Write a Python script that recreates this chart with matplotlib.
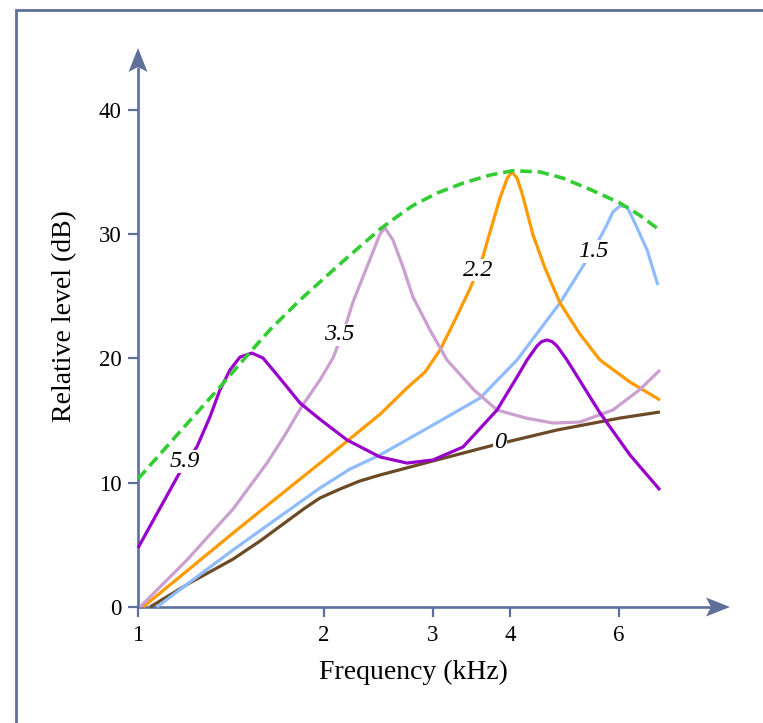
import matplotlib
matplotlib.use("Agg")
import matplotlib.pyplot as plt
from matplotlib.patches import Rectangle, Polygon
from matplotlib.transforms import IdentityTransform

# ---------------- data ----------------
env_f = [1.0, 1.169, 1.357, 1.529, 1.635, 1.829, 2.123, 2.464, 2.625, 2.786, 3.048, 3.357, 3.713, 4.045,
         4.473, 4.873, 5.389, 6.026, 6.493, 6.996]
env_y = [10.3, 14.1, 17.7, 20.67, 22.3, 24.7, 27.6, 30.4, 31.4, 32.3, 33.3, 34.1, 34.75, 35.1,
         35.0, 34.5, 33.6, 32.5, 31.5, 30.3]

c0_f = [1.046, 1.214, 1.425, 1.576, 1.762, 1.863, 1.970, 2.123, 2.287, 2.464, 3.002, 3.713, 4.766, 6.026, 6.996]
c0_y = [0.0, 1.95, 3.85, 5.31, 7.08, 7.96, 8.77, 9.49, 10.14, 10.62, 11.75, 12.95, 14.24, 15.2, 15.69]

c15_f = [1.073, 1.214, 1.425, 1.666, 1.970, 2.204, 2.464, 3.002, 3.577, 4.106, 4.819, 5.49, 5.72, 5.87,
         6.026, 6.186, 6.37, 6.67, 6.94]
c15_y = [0.0, 2.01, 4.59, 7.0, 9.57, 11.1, 12.23, 14.64, 16.81, 19.87, 24.46, 28.96, 30.6, 31.78,
         32.27, 32.2, 30.9, 28.7, 25.9]

c22_f = [1.019, 1.2, 1.425, 1.698, 2.0, 2.464, 2.725, 2.914, 3.082, 3.259, 3.45, 3.603, 3.713, 3.853,
         3.96, 4.03, 4.106, 4.183, 4.262, 4.358, 4.557, 4.819, 5.19, 5.594, 6.255, 6.996]
c22_y = [0.0, 2.9, 5.95, 9.0, 11.83, 15.5, 17.62, 18.9, 20.68, 23.09, 25.66, 27.92, 30.17, 32.9,
         34.51, 35.0, 34.51, 33.3, 31.78, 29.93, 27.27, 24.46, 21.96, 19.87, 18.1, 16.65]

c35_f = [1.0075, 1.2, 1.425, 1.518, 1.617, 1.7295, 1.8428, 1.970, 2.068, 2.123, 2.179, 2.228, 2.347, 2.464,
         2.51, 2.587, 2.685, 2.786, 2.969, 3.163, 3.498, 3.811, 4.246, 4.696, 5.19, 5.87, 6.493, 6.996]
c35_y = [0.0, 3.78, 7.88, 9.73, 11.58, 13.84, 16.17, 18.26, 20.03, 21.48, 23.0, 24.54, 27.35, 30.0,
         30.5, 29.5, 27.35, 24.94, 22.28, 19.87, 17.46, 15.85, 15.2, 14.8, 14.88, 15.85, 17.5, 19.07]

c59_f = [1.0, 1.0855, 1.1694, 1.2459, 1.3077, 1.357, 1.4089, 1.4624, 1.529, 1.5933, 1.654, 1.7425, 1.829,
         1.9704, 2.1792, 2.464, 2.725, 3.002, 3.357, 3.811, 4.106, 4.262, 4.423, 4.50, 4.591, 4.68, 4.766,
         4.947, 5.594, 6.255, 6.996]
c59_y = [4.75, 7.96, 10.86, 12.9, 15.3, 17.46, 19.07, 20.11, 20.43, 20.03, 19.07, 17.70, 16.41,
         15.1, 13.44, 12.07, 11.58, 11.83, 12.87, 15.85, 18.5, 19.87, 21.0, 21.35, 21.48, 21.35, 21.0,
         19.87, 15.61, 12.23, 9.41]

curve_labels = ["5.9", "3.5", "2.2", "1.5", "0"]
label_f = [1.19, 2.12, 3.55, 5.45, 3.85]
label_y = [11.7, 21.9, 27.1, 28.6, 13.2]

x_ticks = [1, 2, 3, 4, 6]
y_ticks = [0, 10, 20, 30, 40]

# ---------------- style ----------------
AXC = "#5f6f9c"
plt.rcParams["font.family"] = ["Liberation Serif", "DejaVu Serif"]

W, H = 763, 723
fig = plt.figure(figsize=(W / 100, H / 100), dpi=100)

x0, x1 = 138, 730   # pixel span of x axis (f=1 -> arrow tip)
y0, y1 = 607, 48    # pixel span of y axis (0 -> arrow tip)
ax = fig.add_axes([x0 / W, (H - y0) / H, (x1 - x0) / W, (y0 - y1) / H])
ax.set_xscale("log")
xmax = 2 ** ((x1 - x0) / 186.0)
ax.set_xlim(1, xmax)
ax.set_ylim(0, (y0 - y1) / 12.43)
ax.patch.set_alpha(0)

for s in ax.spines.values():
    s.set_visible(False)

# axis lines with stealth-style arrowheads (display pixels)
ox, oy = ax.transAxes.transform((0, 0))
tx, _ = ax.transAxes.transform((1, 0))
_, ty = ax.transAxes.transform((0, 1))
L, HW, NOTCH = 24, 9.5, 5
ax.plot([0, 1 - (L - NOTCH) / (x1 - x0)], [0, 0], transform=ax.transAxes, color=AXC, lw=1.9,
        clip_on=False, solid_capstyle="butt")
ax.plot([0, 0], [0, 1 - (L - NOTCH) / (y0 - y1)], transform=ax.transAxes, color=AXC, lw=1.9,
        clip_on=False, solid_capstyle="butt")
fig.add_artist(Polygon([(tx, oy), (tx - L, oy + HW), (tx - L + NOTCH, oy), (tx - L, oy - HW)],
                       closed=True, fc=AXC, ec="none", transform=IdentityTransform()))
fig.add_artist(Polygon([(ox, ty), (ox - HW, ty - L), (ox, ty - L + NOTCH), (ox + HW, ty - L)],
                       closed=True, fc=AXC, ec="none", transform=IdentityTransform()))

ax.set_xticks(x_ticks)
ax.set_xticklabels([str(t) for t in x_ticks])
ax.xaxis.set_minor_locator(matplotlib.ticker.NullLocator())
ax.set_yticks(y_ticks)
ax.tick_params(axis="both", direction="out", length=7, width=1.6, color=AXC,
               labelsize=16.5, labelcolor="black")
ax.tick_params(axis="y", pad=5)
ax.tick_params(axis="x", pad=6)

lw = 2.3
kw = dict(clip_on=False, solid_capstyle="butt", solid_joinstyle="round")
ax.plot(c0_f, c0_y, color="#6b4a25", lw=lw, **kw)
ax.plot(c15_f, c15_y, color="#8fbcff", lw=lw, **kw)
ax.plot(c22_f, c22_y, color="#ff9a00", lw=lw, **kw)
ax.plot(c35_f, c35_y, color="#cc9fd1", lw=lw, **kw)
ax.plot(c59_f, c59_y, color="#9a00cc", lw=lw, **kw)
ax.plot(env_f, env_y, color="#33cc33", lw=2.6, dashes=(3.2, 1.6), clip_on=False)

for t, f, y in zip(curve_labels, label_f, label_y):
    ax.text(f, y, t, ha="center", va="center", fontsize=17.5, style="italic",
            bbox=dict(fc="white", ec="none", pad=0.6), zorder=5)

fig.text(413 / W, 1 - 672 / H, "Frequency (kHz)", ha="center", va="center", fontsize=20)
fig.text(65 / W, 1 - 316 / H, "Relative level (dB)", ha="center", va="center",
         rotation=90, fontsize=20)

# frame
fig.patches.append(Rectangle((16 / W, -0.2), 2.0, 1.2 - 10 / H, transform=fig.transFigure,
                             fill=False, ec=AXC, lw=2.0, clip_on=False))

fig.savefig("out.png", dpi=100)
